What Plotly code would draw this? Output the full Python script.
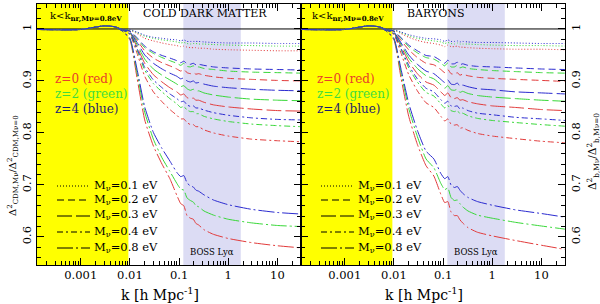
import plotly.graph_objects as go

# ---------------- data ----------------
k_vals = [1.3e-4, 0.001, 0.003, 0.005, 0.007, 0.01, 0.014, 0.02, 0.03, 0.045, 0.065,
          0.09, 0.108, 0.125, 0.145, 0.17, 0.195, 0.22, 0.25, 0.32, 0.5, 1.0, 3.0, 10.0, 30.0]

# Cold dark matter panel
cdm_m01_z4 = [0.999, 0.999, 1.006, 1.004, 1.000, 0.999, 0.994, 0.988, 0.984, 0.982, 0.980, 0.979, 0.977, 0.979, 0.976, 0.976, 0.976, 0.976, 0.976, 0.975, 0.974, 0.973, 0.973, 0.972, 0.972]
cdm_m01_z2 = [0.999, 0.999, 1.006, 1.004, 1.000, 0.998, 0.993, 0.986, 0.982, 0.979, 0.977, 0.975, 0.973, 0.974, 0.972, 0.971, 0.972, 0.972, 0.971, 0.971, 0.970, 0.969, 0.968, 0.967, 0.967]
cdm_m01_z0 = [0.999, 0.999, 1.006, 1.004, 0.999, 0.998, 0.991, 0.982, 0.977, 0.973, 0.970, 0.968, 0.966, 0.967, 0.965, 0.964, 0.964, 0.964, 0.963, 0.963, 0.961, 0.960, 0.959, 0.958, 0.958]
cdm_m02_z4 = [0.999, 0.999, 1.006, 1.004, 0.999, 0.996, 0.983, 0.967, 0.956, 0.949, 0.944, 0.939, 0.935, 0.938, 0.933, 0.932, 0.934, 0.931, 0.932, 0.930, 0.927, 0.925, 0.923, 0.922, 0.921]
cdm_m02_z2 = [0.999, 0.999, 1.006, 1.004, 0.999, 0.996, 0.981, 0.964, 0.953, 0.945, 0.939, 0.934, 0.930, 0.934, 0.928, 0.927, 0.929, 0.926, 0.927, 0.924, 0.922, 0.919, 0.917, 0.916, 0.915]
cdm_m02_z0 = [0.999, 0.999, 1.006, 1.004, 0.999, 0.995, 0.978, 0.958, 0.944, 0.935, 0.929, 0.923, 0.919, 0.922, 0.916, 0.914, 0.916, 0.913, 0.914, 0.911, 0.908, 0.905, 0.903, 0.901, 0.900]
cdm_m03_z4 = [0.999, 0.999, 1.006, 1.004, 0.999, 0.994, 0.974, 0.950, 0.934, 0.923, 0.915, 0.909, 0.904, 0.906, 0.900, 0.898, 0.900, 0.896, 0.897, 0.894, 0.890, 0.887, 0.884, 0.882, 0.881]
cdm_m03_z2 = [0.999, 0.999, 1.006, 1.004, 0.998, 0.993, 0.970, 0.942, 0.923, 0.911, 0.902, 0.894, 0.889, 0.891, 0.885, 0.882, 0.884, 0.880, 0.881, 0.877, 0.873, 0.869, 0.865, 0.863, 0.862]
cdm_m03_z0 = [0.999, 0.999, 1.006, 1.004, 0.998, 0.992, 0.965, 0.934, 0.912, 0.898, 0.887, 0.879, 0.873, 0.875, 0.868, 0.866, 0.867, 0.863, 0.863, 0.859, 0.854, 0.850, 0.846, 0.843, 0.842]
cdm_m04_z4 = [0.999, 0.999, 1.006, 1.004, 0.998, 0.991, 0.962, 0.926, 0.902, 0.887, 0.875, 0.866, 0.860, 0.861, 0.854, 0.851, 0.852, 0.848, 0.848, 0.844, 0.839, 0.834, 0.829, 0.826, 0.825]
cdm_m04_z2 = [0.999, 0.999, 1.006, 1.004, 0.998, 0.990, 0.959, 0.921, 0.895, 0.879, 0.866, 0.856, 0.849, 0.851, 0.844, 0.841, 0.841, 0.837, 0.837, 0.832, 0.827, 0.822, 0.817, 0.814, 0.812]
cdm_m04_z0 = [0.999, 0.999, 1.006, 1.004, 0.998, 0.989, 0.953, 0.909, 0.879, 0.860, 0.845, 0.834, 0.827, 0.827, 0.820, 0.816, 0.816, 0.812, 0.812, 0.806, 0.800, 0.794, 0.788, 0.785, 0.783]
cdm_m08_z4 = [0.999, 0.999, 1.006, 1.004, 0.996, 0.982, 0.922, 0.850, 0.801, 0.770, 0.746, 0.724, 0.716, 0.718, 0.704, 0.698, 0.696, 0.690, 0.688, 0.681, 0.671, 0.662, 0.653, 0.647, 0.644]
cdm_m08_z2 = [0.999, 0.999, 1.006, 1.004, 0.996, 0.981, 0.915, 0.840, 0.788, 0.752, 0.726, 0.703, 0.692, 0.690, 0.675, 0.670, 0.667, 0.660, 0.658, 0.650, 0.642, 0.634, 0.627, 0.622, 0.620]
cdm_m08_z0 = [0.999, 0.999, 1.006, 1.004, 0.996, 0.979, 0.905, 0.825, 0.775, 0.740, 0.712, 0.680, 0.664, 0.660, 0.641, 0.636, 0.634, 0.626, 0.623, 0.614, 0.605, 0.597, 0.589, 0.583, 0.579]

# Baryon panel
bar_m01_z4 = [0.999, 0.999, 1.006, 1.004, 1.000, 0.999, 0.994, 0.989, 0.985, 0.982, 0.981, 0.979, 0.976, 0.979, 0.976, 0.976, 0.977, 0.975, 0.976, 0.975, 0.974, 0.974, 0.973, 0.972, 0.972]
bar_m01_z2 = [0.999, 0.999, 1.006, 1.004, 1.000, 0.998, 0.993, 0.987, 0.982, 0.979, 0.977, 0.975, 0.972, 0.974, 0.972, 0.971, 0.973, 0.971, 0.971, 0.971, 0.970, 0.969, 0.968, 0.968, 0.967]
bar_m01_z0 = [0.999, 0.999, 1.006, 1.004, 1.000, 0.998, 0.991, 0.984, 0.978, 0.974, 0.972, 0.969, 0.966, 0.969, 0.966, 0.966, 0.967, 0.965, 0.965, 0.964, 0.963, 0.962, 0.961, 0.961, 0.960]
bar_m02_z4 = [0.999, 0.999, 1.006, 1.004, 0.999, 0.996, 0.983, 0.969, 0.958, 0.949, 0.947, 0.939, 0.934, 0.940, 0.933, 0.933, 0.936, 0.931, 0.933, 0.930, 0.928, 0.927, 0.925, 0.923, 0.922]
bar_m02_z2 = [0.999, 0.999, 1.006, 1.004, 0.999, 0.996, 0.982, 0.966, 0.954, 0.945, 0.942, 0.934, 0.929, 0.935, 0.927, 0.927, 0.930, 0.925, 0.927, 0.924, 0.922, 0.920, 0.918, 0.916, 0.915]
bar_m02_z0 = [0.999, 0.999, 1.006, 1.004, 0.999, 0.995, 0.978, 0.960, 0.945, 0.934, 0.931, 0.922, 0.916, 0.922, 0.914, 0.913, 0.916, 0.911, 0.913, 0.910, 0.907, 0.905, 0.903, 0.901, 0.899]
bar_m03_z4 = [0.999, 0.999, 1.006, 1.004, 0.999, 0.994, 0.973, 0.950, 0.932, 0.919, 0.914, 0.903, 0.897, 0.902, 0.894, 0.893, 0.896, 0.890, 0.892, 0.889, 0.885, 0.883, 0.879, 0.877, 0.875]
bar_m03_z2 = [0.999, 0.999, 1.006, 1.004, 0.998, 0.993, 0.970, 0.944, 0.924, 0.910, 0.904, 0.893, 0.886, 0.891, 0.883, 0.882, 0.884, 0.878, 0.880, 0.876, 0.872, 0.869, 0.866, 0.863, 0.861]
bar_m03_z0 = [0.999, 0.999, 1.006, 1.004, 0.998, 0.992, 0.966, 0.937, 0.914, 0.898, 0.892, 0.879, 0.872, 0.877, 0.868, 0.866, 0.868, 0.863, 0.864, 0.860, 0.856, 0.852, 0.849, 0.845, 0.843]
bar_m04_z4 = [0.999, 0.999, 1.006, 1.004, 0.998, 0.991, 0.962, 0.930, 0.904, 0.886, 0.879, 0.864, 0.857, 0.861, 0.852, 0.851, 0.852, 0.846, 0.848, 0.843, 0.838, 0.835, 0.830, 0.827, 0.824]
bar_m04_z2 = [0.999, 0.999, 1.006, 1.004, 0.998, 0.991, 0.960, 0.925, 0.898, 0.878, 0.871, 0.856, 0.848, 0.853, 0.843, 0.841, 0.843, 0.837, 0.838, 0.833, 0.828, 0.824, 0.820, 0.816, 0.813]
bar_m04_z0 = [0.999, 0.999, 1.006, 1.004, 0.998, 0.989, 0.953, 0.912, 0.881, 0.858, 0.849, 0.832, 0.823, 0.827, 0.817, 0.815, 0.816, 0.809, 0.810, 0.805, 0.799, 0.794, 0.789, 0.784, 0.781]
bar_m08_z4 = [0.999, 0.999, 1.006, 1.004, 0.996, 0.982, 0.922, 0.857, 0.805, 0.765, 0.750, 0.722, 0.712, 0.716, 0.700, 0.695, 0.697, 0.690, 0.684, 0.676, 0.668, 0.661, 0.652, 0.645, 0.638]
bar_m08_z2 = [0.999, 0.999, 1.006, 1.004, 0.996, 0.981, 0.915, 0.847, 0.793, 0.750, 0.733, 0.703, 0.691, 0.694, 0.676, 0.670, 0.671, 0.664, 0.658, 0.650, 0.642, 0.636, 0.628, 0.621, 0.615]
bar_m08_z0 = [0.999, 0.999, 1.006, 1.004, 0.996, 0.979, 0.905, 0.832, 0.778, 0.737, 0.717, 0.682, 0.666, 0.668, 0.648, 0.641, 0.641, 0.633, 0.627, 0.618, 0.609, 0.602, 0.593, 0.584, 0.576]

mass_labels = ["0.1", "0.2", "0.3", "0.4", "0.8"]
z_labels = ["z=0 (red)", "z=2 (green)", "z=4 (blue)"]
x_tick_vals = [0.001, 0.01, 0.1, 1, 10]
x_tick_text = ["0.001", "0.01", "0.1", "1", "10"]
y_tick_vals = [0.6, 0.7, 0.8, 0.9, 1.0]
y_tick_text = ["0.6", "0.7", "0.8", "0.9", "1"]
nr_region = [1.28e-4, 0.0093]     # k < k_nr
boss_region = [0.122, 1.8]        # BOSS Ly-alpha range

# ---------------- styles ----------------
FONT = "DejaVu Serif"
RED, GREEN, BLUE = "#e23b3b", "#38d838", "#2b2bd0"
Z_TEXT_COLORS = ["#e8402a", "#3fdc3f", "#1c1c6e"]
DASHES = ["1px,2px", "7px,4px", "15px,4px", "6px,3px,2px,3px", "16px,3px,2px,3px"]

cdm_curves = [
    [cdm_m01_z0, cdm_m01_z2, cdm_m01_z4],
    [cdm_m02_z0, cdm_m02_z2, cdm_m02_z4],
    [cdm_m03_z0, cdm_m03_z2, cdm_m03_z4],
    [cdm_m04_z0, cdm_m04_z2, cdm_m04_z4],
    [cdm_m08_z0, cdm_m08_z2, cdm_m08_z4],
]
bar_curves = [
    [bar_m01_z0, bar_m01_z2, bar_m01_z4],
    [bar_m02_z0, bar_m02_z2, bar_m02_z4],
    [bar_m03_z0, bar_m03_z2, bar_m03_z4],
    [bar_m04_z0, bar_m04_z2, bar_m04_z4],
    [bar_m08_z0, bar_m08_z2, bar_m08_z4],
]

fig = go.Figure()
for curves, xa, ya in [(cdm_curves, "x", "y"), (bar_curves, "x2", "y2")]:
    for mi, trio in enumerate(curves):
        for zi, col in enumerate([RED, GREEN, BLUE]):
            fig.add_trace(go.Scatter(
                x=k_vals, y=trio[zi], xaxis=xa, yaxis=ya, mode="lines",
                line=dict(color=col, width=1, dash=DASHES[mi], shape="spline", smoothing=0.5),
                showlegend=False, hoverinfo="skip"))

# ---------------- layout ----------------
W, H = 600, 304
ML, MR, MT, MB = 37, 35, 4, 39
PW, PH = W - ML - MR, H - MT - MB


def px_x(p):
    return (p - ML) / PW


def px_y(p):
    return (H - MB - p) / PH


minor_x = [m * 10.0 ** e for e in range(-4, 2) for m in range(2, 10)]
tickfont = dict(family=FONT, size=11.5, color="black")
common_x = dict(type="log", range=[-3.89, 1.48], showline=True, linecolor="black", linewidth=1,
                mirror="allticks", ticks="inside", ticklen=7, tickcolor="black", tickwidth=1,
                tickvals=x_tick_vals, ticktext=x_tick_text, tickfont=tickfont,
                ticklabelstandoff=-1, automargin=False,
                minor=dict(tickvals=minor_x, ticks="inside", ticklen=4, tickcolor="black"),
                showgrid=False, zeroline=False)
common_y = dict(range=[0.546, 1.048], showline=True, linecolor="black", linewidth=1,
                mirror="allticks", ticks="inside", ticklen=7, tickcolor="black", tickwidth=1,
                tickvals=y_tick_vals, ticktext=y_tick_text, tickangle=-90, tickfont=tickfont,
                automargin=False,
                minor=dict(dtick=0.02, ticks="inside", ticklen=4, tickcolor="black"),
                showgrid=False, zeroline=False)

fig.update_layout(
    width=W, height=H, margin=dict(l=ML, r=MR, t=MT, b=MB, autoexpand=False),
    paper_bgcolor="white", plot_bgcolor="white", showlegend=False,
    font=dict(family=FONT, color="black"),
    xaxis=dict(domain=[0, 0.5], anchor="y", **common_x),
    yaxis=dict(domain=[0, 1], anchor="x", side="left", **common_y),
    xaxis2=dict(domain=[0.5, 1], anchor="y2", **common_x),
    yaxis2=dict(domain=[0, 1], anchor="x2", side="right", **common_y),
)

shapes = []
for xr, yr in [("x", "y"), ("x2", "y2")]:
    shapes.append(dict(type="rect", xref=xr, yref=yr + " domain", x0=nr_region[0], x1=nr_region[1],
                       y0=0, y1=1, fillcolor="#ffff00", line=dict(width=0), layer="below"))
    shapes.append(dict(type="rect", xref=xr, yref=yr + " domain", x0=boss_region[0], x1=boss_region[1],
                       y0=0, y1=1, fillcolor="#dcdcf4", line=dict(width=0), layer="below"))
    shapes.append(dict(type="line", xref=xr + " domain", yref=yr, x0=0, x1=1, y0=1, y1=1,
                       line=dict(color="black", width=1), layer="below"))

rows_px = [185, 199, 215, 231, 247]
annotations = []
for off in [0, 264]:
    for i, m in enumerate(mass_labels):
        shapes.append(dict(type="line", xref="paper", yref="paper",
                           x0=px_x(57 + off), x1=px_x(90 + off),
                           y0=px_y(rows_px[i] + 1), y1=px_y(rows_px[i] + 1),
                           line=dict(color="black", width=1, dash=DASHES[i])))
        annotations.append(dict(xref="paper", yref="paper", x=px_x(92 + off), y=px_y(rows_px[i]),
                                text="M<sub>ν</sub>=%s eV" % m, showarrow=False,
                                xanchor="left", yanchor="middle",
                                font=dict(family=FONT, size=11.5, color="black")))
    for i, zt in enumerate(z_labels):
        annotations.append(dict(xref="paper", yref="paper", x=px_x(53 + off - (2 if off else 0)),
                                y=px_y(79 + 15 * i), text=zt, showarrow=False,
                                xanchor="left", yanchor="middle",
                                font=dict(family=FONT, size=12, color=Z_TEXT_COLORS[i])))
    annotations.append(dict(xref="paper", yref="paper", x=px_x(48 + off - (2 if off else 0)), y=px_y(16),
                            text="k&lt;k<sub><b>nr,Mν=0.8eV</b></sub>", showarrow=False,
                            xanchor="left", yanchor="middle",
                            font=dict(family=FONT, size=10, color="black")))
    annotations.append(dict(xref="paper", yref="paper", x=px_x(212 + off), y=px_y(252),
                            text="BOSS Lyα", showarrow=False, xanchor="center", yanchor="middle",
                            font=dict(family=FONT, size=8.5, color="black")))
    annotations.append(dict(xref="paper", yref="paper", x=px_x(160 + off), y=px_y(305),
                            text="k [h Mpc<sup>-1</sup>]", showarrow=False,
                            xanchor="center", yanchor="bottom",
                            font=dict(family=FONT, size=14, color="black")))

annotations.append(dict(xref="paper", yref="paper", x=px_x(205), y=px_y(14), text="COLD DARK MATTER",
                        showarrow=False, xanchor="center", yanchor="middle",
                        font=dict(family=FONT, size=11, color="black")))
annotations.append(dict(xref="paper", yref="paper", x=px_x(435), y=px_y(14), text="BARYONS",
                        showarrow=False, xanchor="center", yanchor="middle",
                        font=dict(family=FONT, size=11, color="black")))
annotations.append(dict(xref="paper", yref="paper", x=px_x(13), y=px_y(166), textangle=-90,
                        text="Δ<sup>2</sup><sub>CDM,Mν</sub>/Δ<sup>2</sup><sub>CDM,Mν=0</sub>",
                        showarrow=False, xanchor="center", yanchor="middle",
                        font=dict(family=FONT, size=10, color="black")))
annotations.append(dict(xref="paper", yref="paper", x=px_x(593), y=px_y(152), textangle=-90,
                        text="Δ<sup>2</sup><sub>b,Mν</sub>/Δ<sup>2</sup><sub>b,Mν=0</sub>",
                        showarrow=False, xanchor="center", yanchor="middle",
                        font=dict(family=FONT, size=10.5, color="black")))

fig.update_layout(shapes=shapes, annotations=annotations)
fig.write_html("out.html", config={"displayModeBar": False},
               post_script="document.body.style.margin='0px';document.body.style.padding='0px';")
